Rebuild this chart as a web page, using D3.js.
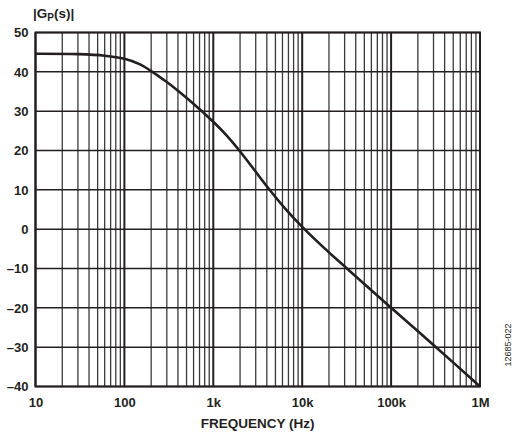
<!DOCTYPE html>
<html><head><meta charset="utf-8">
<script src="https://cdn.jsdelivr.net/npm/d3@7"></script>
<style>body{margin:0;background:#fff}</style>
</head><body>
<svg id="c" width="519" height="439"></svg>
<script>
const freqs = [10, 30, 60, 100, 150, 200, 300, 400, 550, 750, 1000, 1400, 1930, 2800, 4100, 6400, 10000, 20000, 33000, 100000, 320000, 1000000];
const gainDb = [44.6, 44.5, 44.1, 43.3, 41.9, 40.2, 37.4, 35.2, 32.6, 29.9, 27.3, 23.9, 20.2, 15.5, 10.6, 5.3, 0.6, -5.9, -10.3, -20, -30, -40];
const xTickValues = [10, 100, 1000, 10000, 100000, 1000000];
const xTickLabels = ["10", "100", "1k", "10k", "100k", "1M"];
const yTickValues = [50, 40, 30, 20, 10, 0, -10, -20, -30, -40];

const svg = d3.select("#c");
const m = {l: 35.5, r: 480, t: 32.5, b: 386.5};
const x = d3.scaleLog().domain([10, 1e6]).range([m.l, m.r]);
const y = d3.scaleLinear().domain([-40, 50]).range([m.b, m.t]);
const font = "'Liberation Sans', Arial, sans-serif";
const ink = "#231f20";

// vertical grid
const minor = [];
for (let d = 10; d < 1e6; d *= 10) for (let k = 2; k <= 9; k++) minor.push(d * k);
svg.append("g").selectAll("line").data(minor).join("line")
  .attr("x1", d => x(d)).attr("x2", d => x(d)).attr("y1", m.t).attr("y2", m.b)
  .attr("stroke", "#3a3a3a").attr("stroke-width", 1.3);
svg.append("g").selectAll("line").data(xTickValues).join("line")
  .attr("x1", d => x(d)).attr("x2", d => x(d)).attr("y1", m.t).attr("y2", m.b)
  .attr("stroke", ink).attr("stroke-width", 2);
// horizontal grid
svg.append("g").selectAll("line").data(yTickValues).join("line")
  .attr("x1", m.l).attr("x2", m.r).attr("y1", d => y(d)).attr("y2", d => y(d))
  .attr("stroke", ink).attr("stroke-width", 1.5);
// frame
svg.append("rect").attr("x", m.l).attr("y", m.t).attr("width", m.r - m.l).attr("height", m.b - m.t)
  .attr("fill", "none").attr("stroke", ink).attr("stroke-width", 2);

// curve
const pts = freqs.map((f, i) => [f, gainDb[i]]);
svg.append("path").datum(pts)
  .attr("d", d3.line().x(d => x(d[0])).y(d => y(d[1])).curve(d3.curveCatmullRom.alpha(0.5)))
  .attr("fill", "none").attr("stroke", ink).attr("stroke-width", 2.6);

// axes labels
const yAxis = d3.axisLeft(y).tickValues(yTickValues).tickSize(0).tickPadding(7)
  .tickFormat(d => d < 0 ? "\u2013" + Math.abs(d) : String(d));
const gy = svg.append("g").attr("transform", `translate(${m.l},0)`).call(yAxis);
gy.select(".domain").remove();
gy.selectAll("text").attr("font-family", font).attr("font-weight", "bold").attr("font-size", 13).attr("fill", ink);

const xAxis = d3.axisBottom(x).tickValues(xTickValues).tickSize(0).tickPadding(11)
  .tickFormat((d, i) => xTickLabels[i]);
const gx = svg.append("g").attr("transform", `translate(0,${m.b})`).call(xAxis);
gx.select(".domain").remove();
gx.selectAll("text").attr("font-family", font).attr("font-weight", "bold").attr("font-size", 13).attr("fill", ink);

svg.append("text").attr("x", (m.l + m.r) / 2).attr("y", 428).attr("text-anchor", "middle")
  .attr("font-family", font).attr("font-weight", "bold").attr("font-size", 13.5).attr("fill", ink)
  .text("FREQUENCY (Hz)");

const t = svg.append("text").attr("x", 33).attr("y", 18)
  .attr("font-family", font).attr("font-weight", "bold").attr("font-size", 13.5).attr("fill", ink);
t.append("tspan").text("|G");
t.append("tspan").attr("font-size", 10).attr("dy", 3).text("P");
t.append("tspan").attr("dy", -3).text("(s)|");

svg.append("text").attr("transform", "translate(511,345) rotate(-90)").attr("text-anchor", "middle")
  .attr("font-family", font).attr("font-size", 9).attr("fill", ink).text("12685-022");
</script>
</body></html>
